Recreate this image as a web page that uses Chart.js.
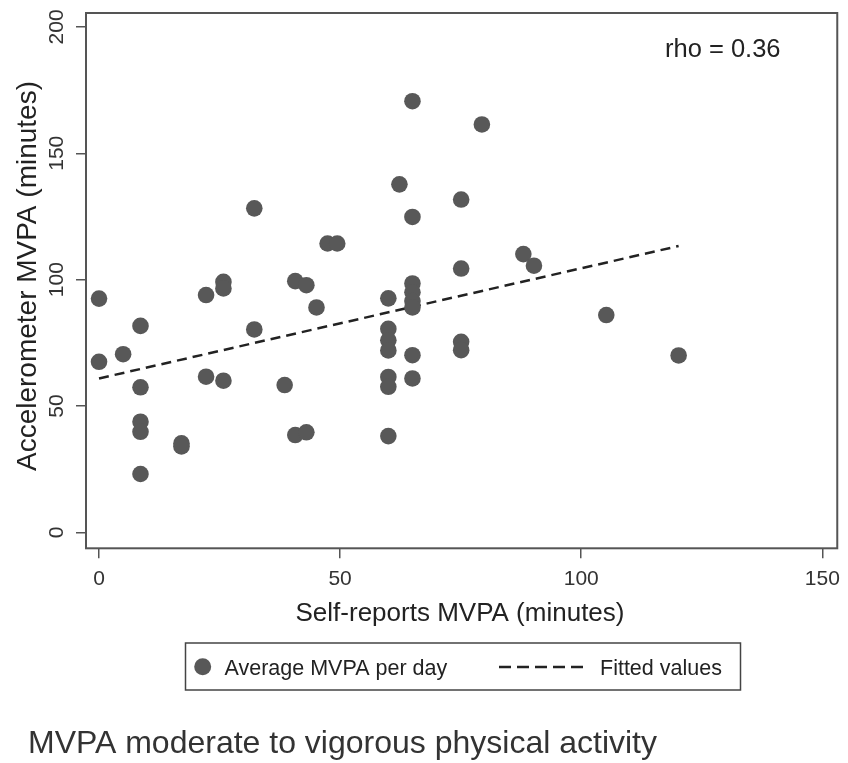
<!DOCTYPE html>
<html>
<head>
<meta charset="utf-8">
<script src="https://cdn.jsdelivr.net/npm/chart.js@4"></script>
<style>
  body { margin: 0; background: #fff; }
  #wrap { width: 848px; height: 763px; }
</style>
</head>
<body>
<div id="wrap"><canvas id="myChart"></canvas></div>
<script>
// values
var selfReport = [0, 0, 5, 8.6, 8.6, 8.6, 8.6, 8.6, 17.1, 17.1, 22.2, 22.2, 25.8, 25.8, 25.8,
    32.2, 32.2, 38.5, 40.7, 40.7, 43, 43, 45.1, 47.4, 49.4, 60, 60, 60, 60, 60, 60, 60, 62.3,
    65, 65, 65, 65, 65, 65, 65, 65, 75.1, 75.1, 75.1, 75.1, 79.4, 88, 90.2, 105.2, 120.2];
var accel = [92.5, 67.5, 70.5, 81.7, 57.4, 43.8, 39.8, 23.1, 35.2, 34, 93.9, 61.6, 99.1, 96.5, 60,
    128.2, 80.3, 58.3, 99.4, 38.5, 97.8, 39.6, 89, 114.3, 114.3, 92.6, 80.5, 76, 72, 61.5, 57.6, 38.1, 137.7,
    170.6, 124.8, 98.5, 95, 91.5, 89, 70.1, 60.9, 131.7, 104.4, 75.4, 72.1, 161.4, 110.1, 105.5, 86, 70];
var fitX = [0, 120.2];
var fitY = [60.9, 113.3];
var xTicks = [0, 50, 100, 150];
var yTicks = [0, 50, 100, 150, 200];

var font = '"Liberation Sans", Arial, sans-serif';

var points = [];
for (var i = 0; i < selfReport.length; i++) {
    points.push({x: selfReport[i], y: accel[i]});
}
var fitted = [];
for (var j = 0; j < fitX.length; j++) {
    fitted.push({x: fitX[j], y: fitY[j]});
}

// frame, rotated y labels, titles, legend box and note
var extras = {
    id: 'extras',
    afterDraw: function (chart) {
        var ctx = chart.ctx;
        var a = chart.chartArea;
        var ys = chart.scales.y;
        ctx.save();
        ctx.strokeStyle = '#555';
        ctx.lineWidth = 2;
        ctx.strokeRect(a.left, a.top, a.right - a.left, a.bottom - a.top);

        ctx.fillStyle = '#333';
        ctx.font = '21px ' + font;
        ctx.textAlign = 'center';
        ctx.textBaseline = 'middle';
        ys.ticks.forEach(function (t) {
            ctx.save();
            ctx.translate(57.5, ys.getPixelForValue(t.value));
            ctx.rotate(-Math.PI / 2);
            ctx.fillText(String(t.value), 0, 0);
            ctx.restore();
        });

        ctx.fillStyle = '#222';
        ctx.font = '28px ' + font;
        ctx.save();
        ctx.translate(28.5, 276);
        ctx.rotate(-Math.PI / 2);
        ctx.fillText('Accelerometer MVPA (minutes)', 0, 0);
        ctx.restore();

        ctx.textBaseline = 'alphabetic';
        ctx.font = '26px ' + font;
        ctx.fillText('Self-reports MVPA (minutes)', 460, 621);

        ctx.textAlign = 'left';
        ctx.font = '25.5px ' + font;
        ctx.fillText('rho = 0.36', 665, 56.5);

        // legend
        ctx.strokeStyle = '#444';
        ctx.lineWidth = 1.5;
        ctx.strokeRect(185.5, 643, 555, 47);
        ctx.fillStyle = '#585858';
        ctx.beginPath();
        ctx.arc(202.7, 666.7, 8.5, 0, Math.PI * 2);
        ctx.fill();
        ctx.fillStyle = '#222';
        ctx.font = '21.5px ' + font;
        ctx.fillText('Average MVPA per day', 224.5, 675);
        ctx.fillText('Fitted values', 600, 675);
        ctx.strokeStyle = '#222';
        ctx.lineWidth = 2.5;
        ctx.setLineDash([12, 6]);
        ctx.beginPath();
        ctx.moveTo(499, 667);
        ctx.lineTo(585, 667);
        ctx.stroke();
        ctx.setLineDash([]);

        ctx.fillStyle = '#333';
        ctx.font = '32px ' + font;
        ctx.fillText('MVPA moderate to vigorous physical activity', 28, 753);
        ctx.restore();
    }
};

var ctx = document.getElementById('myChart').getContext('2d');
var chart = new Chart(ctx, {
    type: 'scatter',
    data: {
        datasets: [{
            label: 'Average MVPA per day',
            data: points,
            backgroundColor: '#585858',
            borderWidth: 0,
            pointRadius: 8.3,
            pointHoverRadius: 8.3
        }, {
            type: 'line',
            label: 'Fitted values',
            data: fitted,
            borderColor: '#222',
            borderWidth: 2.5,
            borderDash: [10, 6],
            pointRadius: 0,
            fill: false
        }]
    },
    plugins: [extras],
    options: {
        responsive: true,
        maintainAspectRatio: false,
        animation: false,
        layout: { padding: { top: 13, right: 7, bottom: 0, left: 0 } },
        plugins: {
            legend: { display: false },
            tooltip: { enabled: false }
        },
        scales: {
            x: {
                type: 'linear',
                min: -2.7,
                max: 153.1,
                afterBuildTicks: function (scale) {
                    scale.ticks = xTicks.map(function (v) { return {value: v}; });
                },
                afterFit: function (scale) { scale.height = 214.7; },
                grid: { drawOnChartArea: false, drawTicks: true, tickLength: 10, color: '#555', lineWidth: 1.5 },
                border: { display: false },
                ticks: { color: '#333', padding: 8, font: { family: font, size: 21 } }
            },
            y: {
                type: 'linear',
                min: -6.3,
                max: 205.5,
                afterBuildTicks: function (scale) {
                    scale.ticks = yTicks.map(function (v) { return {value: v}; });
                },
                afterFit: function (scale) { scale.width = 86; },
                grid: { drawOnChartArea: false, drawTicks: true, tickLength: 10, color: '#555', lineWidth: 1.5 },
                border: { display: false },
                ticks: { display: false }
            }
        }
    }
});
</script>
</body>
</html>
